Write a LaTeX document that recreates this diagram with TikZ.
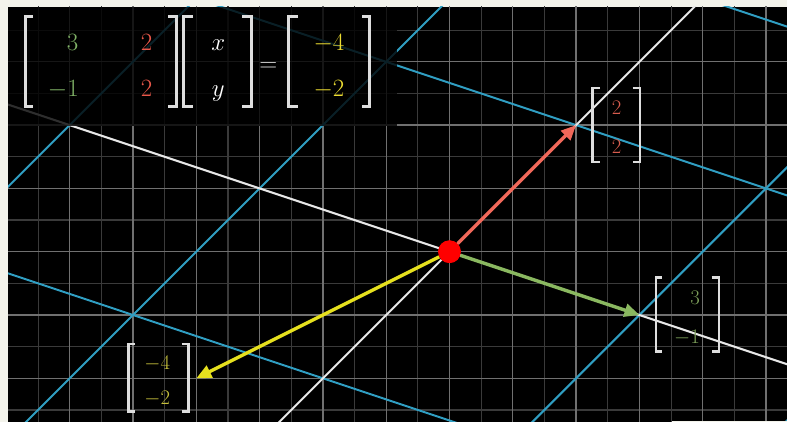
\documentclass[tikz,border=0pt]{standalone}
\usetikzlibrary{arrows.meta}
\definecolor{paper}{RGB}{243,243,235}
\definecolor{minorg}{RGB}{58,58,58}
\definecolor{majorg}{RGB}{112,112,112}
\definecolor{bluel}{RGB}{48,158,194}
\definecolor{whitel}{RGB}{232,232,232}
\definecolor{arrred}{RGB}{240,104,90}
\definecolor{arrgreen}{RGB}{138,184,96}
\definecolor{arryellow}{RGB}{230,224,30}
\definecolor{dotred}{RGB}{255,0,0}
\definecolor{bgreen}{RGB}{128,178,102}
\definecolor{bred}{RGB}{234,88,74}
\definecolor{byellow}{RGB}{236,220,50}
\definecolor{sgreen}{RGB}{125,160,90}
\definecolor{sred}{RGB}{216,92,78}
\definecolor{syellow}{RGB}{198,192,60}
\definecolor{brk}{RGB}{222,222,222}
\newcommand\matfont{\fontsize{28}{33}\selectfont}
\newcommand\vecfont{\fontsize{20}{24}\selectfont}
\tikzset{
  minorline/.style={draw=minorg, line width=1.1pt},
  majorline/.style={draw=majorg, line width=1.3pt},
  gridblue/.style={draw=bluel, line width=2pt},
  axisline/.style={draw=whitel, line width=2pt},
  vecarrow/.style={line width=3.4pt, -{Triangle[length=15pt,width=13pt]}},
  bigbr/.style={draw=brk, line width=3pt},
  smallbr/.style={draw=brk, line width=2.4pt},
  bigent/.style={anchor=base, inner sep=0pt, font=\matfont},
  smallent/.style={anchor=base, inner sep=0pt, font=\vecfont},
}
\begin{document}
\begin{tikzpicture}[x=1pt,y=-1pt]
\useasboundingbox (0,0) rectangle (787,422);
\fill[paper] (0,0) rectangle (787,422);
\fill[black] (8,7) rectangle (787,422);
\begin{scope}
\clip (8,7) rectangle (787,422);
\begin{scope}[shift={(449.5pt,-251.7pt)}, x={(63.3pt,0pt)}, y={(0pt,63.3pt)}]
  \foreach \k in {-14,...,11} \draw[minorline] ({\k/2},-3) -- ({\k/2},4);
  \foreach \k in {-6,...,7} \draw[minorline] (-7.5,{\k/2}) -- (6,{\k/2});
  \foreach \k in {-7,...,5} \draw[majorline] (\k,-3) -- (\k,4);
  \foreach \k in {-3,...,3} \draw[majorline] (-7.5,\k) -- (6,\k);
  \foreach \t in {-3,-2,-1,1,2,3}
    \draw[gridblue] ({2*\t-15},{2*\t+5}) -- ({2*\t+15},{2*\t-5});
  \foreach \a in {-4,-3,-2,-1,1,2,3,4}
    \draw[gridblue] ({3*\a-10},{-\a-10}) -- ({3*\a+10},{-\a+10});
  \draw[axisline] (-15,5) -- (15,-5);
  \draw[axisline] (-10,-10) -- (10,10);
  \coordinate (O) at (0,0);
  \coordinate (I) at (3,-1);
  \coordinate (J) at (2,2);
  \coordinate (V) at (-4,-2);
\end{scope}
\fill[black, opacity=0.8] (8,7) rectangle (397,126);
\end{scope}
\fill[paper] (672,421) rectangle (787,422);
\node[circle, fill=dotred, minimum size=22.6pt, inner sep=0pt] (dot) at (O) {};
\draw[vecarrow, arrred] (dot) -- (J);
\draw[vecarrow, arrgreen] (dot) -- (I);
\draw[vecarrow, arryellow] (dot) -- (V);
\node[circle, fill=dotred, minimum size=22.6pt, inner sep=0pt] (dottop) at (O) {};
% big equation brackets
\draw[bigbr] (33,16.5) -- (25.3,16.5) -- (25.3,106.5) -- (33,106.5);
\draw[bigbr] (168.3,16.5) -- (176.3,16.5) -- (176.3,106.5) -- (168.3,106.5);
\draw[bigbr] (193,16.5) -- (183.7,16.5) -- (183.7,106.5) -- (193,106.5);
\draw[bigbr] (242,16.5) -- (251.2,16.5) -- (251.2,106.5) -- (242,106.5);
\draw[bigbr] (298,16.5) -- (288.7,16.5) -- (288.7,106.5) -- (298,106.5);
\draw[bigbr] (362,16.5) -- (369.7,16.5) -- (369.7,106.5) -- (362,106.5);
\node[bigent, text=bgreen] (a11) at (72.7,50.3) {$3$};
\node[bigent, text=bred] (a12) at (146.7,50.3) {$2$};
\node[bigent, text=bgreen] (a21) at (63.3,96.7) {$-1$};
\node[bigent, text=bred] (a22) at (146.7,96.7) {$2$};
\node[bigent, text=white] (vx) at (218.3,50.3) {$x$};
\node[bigent, text=white] (vy) at (218.3,96.7) {$y$};
\node[bigent, text=brk, font=\fontsize{30}{34}\selectfont] (eq) at (268.3,71.5) {$=$};
\node[bigent, text=byellow] (r1) at (329,50.3) {$-4$};
\node[bigent, text=byellow] (r2) at (329,96.7) {$-2$};
% small vector labels
\draw[smallbr] (600,88) -- (592.3,88) -- (592.3,162) -- (600,162);
\draw[smallbr] (632.7,88) -- (640,88) -- (640,162) -- (632.7,162);
\node[smallent, text=sred] (j1) at (616.7,115) {$2$};
\node[smallent, text=sred] (j2) at (616.7,153.3) {$2$};
\draw[smallbr] (661.7,277.5) -- (655.7,277.5) -- (655.7,351.3) -- (661.7,351.3);
\draw[smallbr] (711.7,277.5) -- (718.7,277.5) -- (718.7,351.3) -- (711.7,351.3);
\node[smallent, text=sgreen] (i1) at (695,304.3) {$3$};
\node[smallent, text=sgreen] (i2) at (687,343) {$-1$};
\draw[smallbr] (135,344) -- (128.3,344) -- (128.3,411.3) -- (135,411.3);
\draw[smallbr] (181.7,344) -- (188.3,344) -- (188.3,411.3) -- (181.7,411.3);
\node[smallent, text=syellow] (v1) at (157.3,369.3) {$-4$};
\node[smallent, text=syellow] (v2) at (157.3,404) {$-2$};
\end{tikzpicture}
\end{document}
